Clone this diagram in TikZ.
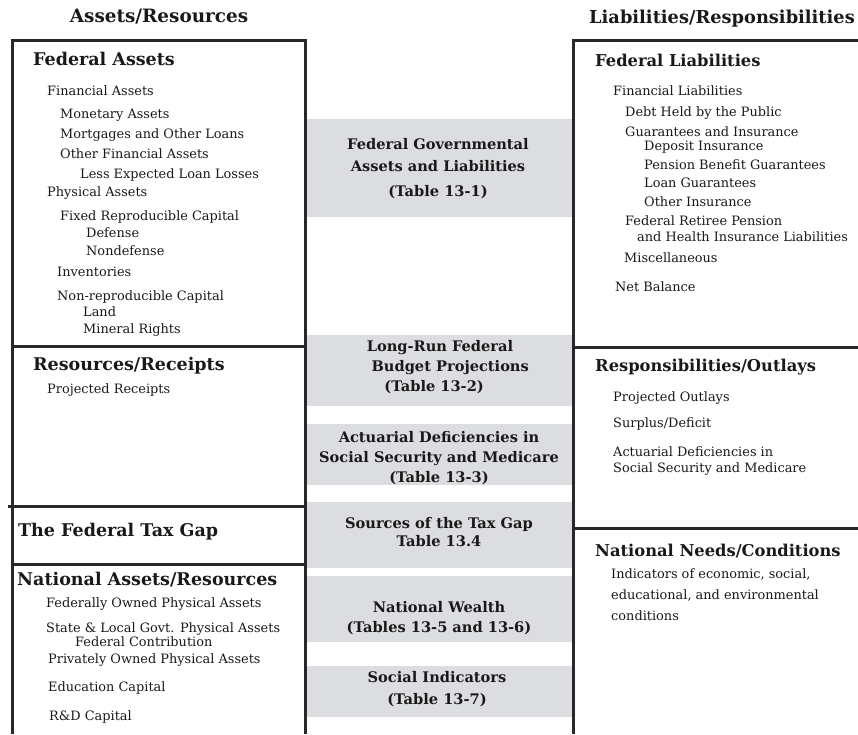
\documentclass[tikz,border=0pt]{standalone}
\usepackage{fontspec}
\setmainfont{DejaVu Serif}
\usetikzlibrary{positioning}
\definecolor{boxgray}{RGB}{220,221,224}
\definecolor{ruleink}{RGB}{40,40,40}
\definecolor{textink}{RGB}{25,25,25}

\begin{document}
\begin{tikzpicture}
	\begin{scope}[x=1pt, y=-1pt]
		\tikzstyle{every node}=[inner sep=0pt, anchor=west, text=textink, text height=1.2ex, text depth=0pt]
		\tikzstyle{top}=[font=\bfseries\fontsize{18.4}{21}\selectfont]
		\tikzstyle{hd}=[font=\bfseries\fontsize{17.5}{20}\selectfont]
		\tikzstyle{hdr}=[font=\bfseries\fontsize{16.3}{19}\selectfont]
		\tikzstyle{itm}=[font=\fontsize{12.9}{15}\selectfont]
		\tikzstyle{tab}=[anchor=center, align=center, text height=, text depth=, font=\bfseries\fontsize{14.6}{20}\selectfont]
		\tikzstyle{rule}=[draw=ruleink, line width=3pt]

		\useasboundingbox (0,0) rectangle (858,734);

		% shaded bands between the two columns
		\fill [boxgray] (305,119) rectangle (573,217);
		\fill [boxgray] (305,335) rectangle (573,406);
		\fill [boxgray] (305,424) rectangle (573,485);
		\fill [boxgray] (305,502) rectangle (573,568);
		\fill [boxgray] (305,576) rectangle (573,642);
		\fill [boxgray] (305,666) rectangle (573,717);

		% column frames
		\draw [rule] (12,734) -- (12,40) -- (305,40) -- (305,734);
		\draw [rule] (573,734) -- (573,40) -- (862,40);
		\draw [rule] (12,346) -- (305,346);
		\draw [rule] (8,506) -- (305,506);
		\draw [rule] (12,564) -- (305,564);
		\draw [rule] (573,347) -- (862,347);
		\draw [rule] (573,528) -- (862,528);

		\node [top, anchor=center] (ares) at (159,19) {Assets/Resources};
		\node [top, font=\bfseries\fontsize{17.8}{21}\selectfont] (lres) at (589,20) {Liabilities/Responsibilities};

		% left column
		\node [hd]  (fa)   at (33,62)  {Federal Assets};
		\node [itm] (fina) at (47,92)  {Financial Assets};
		\node [itm] (mon)  at (60,115) {Monetary Assets};
		\node [itm] (mort) at (60,135) {Mortgages and Other Loans};
		\node [itm] (ofa)  at (60,155) {Other Financial Assets};
		\node [itm] (lel)  at (80,175) {Less Expected Loan Losses};
		\node [itm] (phya) at (47,193) {Physical Assets};
		\node [itm] (frc)  at (60,217) {Fixed Reproducible Capital};
		\node [itm] (def)  at (86,234) {Defense};
		\node [itm] (ndef) at (86,252) {Nondefense};
		\node [itm] (inv)  at (57,273) {Inventories};
		\node [itm] (nrc)  at (57,297) {Non-reproducible Capital};
		\node [itm] (land) at (83,313) {Land};
		\node [itm] (min)  at (83,330) {Mineral Rights};

		\node [hd]  (rr)   at (33,367) {Resources/Receipts};
		\node [itm] (prec) at (47,390) {Projected Receipts};

		\node [hd]  (ftg)  at (18,533) {The Federal Tax Gap};

		\node [hd]  (nar)  at (17,582) {National Assets/Resources};
		\node [itm] (fopa) at (46,604) {Federally Owned Physical Assets};
		\node [itm] (slpa) at (46,629) {State \& Local Govt. Physical Assets};
		\node [itm] (fcon) at (75,643) {Federal Contribution};
		\node [itm] (popa) at (48,660) {Privately Owned Physical Assets};
		\node [itm] (educ) at (48,688) {Education Capital};
		\node [itm] (rdc)  at (49,717) {R\&D Capital};

		% middle column
		\node [tab] (t1) at (438,169) {Federal Governmental\\[2pt]Assets and Liabilities\\[5pt](Table 13-1)};
		\node [tab] (t2) at (440,367) {Long-Run Federal\\\hspace*{1.4em}Budget Projections\\(Table 13-2)\hspace*{0.8em}};
		\node [tab] (t3) at (439,458) {Actuarial Deficiencies in\\Social Security and Medicare\\(Table 13-3)};
		\node [tab] (t4) at (439,532) {Sources of the Tax Gap\\[-2pt]Table 13.4};
		\node [tab] (t5) at (439,618) {National Wealth\\(Tables 13-5 and 13-6)};
		\node [tab] (t6) at (437,689) {Social Indicators\\[2pt](Table 13-7)};

		% right column
		\node [hdr] (fl)   at (595,63)  {Federal Liabilities};
		\node [itm] (finl) at (613,92)  {Financial Liabilities};
		\node [itm] (debt) at (625,113) {Debt Held by the Public};
		\node [itm] (gi)   at (625,133) {Guarantees and Insurance};
		\node [itm] (dep)  at (644,147) {Deposit Insurance};
		\node [itm] (pbg)  at (644,166) {Pension Benefit Guarantees};
		\node [itm] (lg)   at (644,184) {Loan Guarantees};
		\node [itm] (oi)   at (644,203) {Other Insurance};
		\node [itm] (frp)  at (625,222) {Federal Retiree Pension};
		\node [itm] (hil)  at (637,238) {and Health Insurance Liabilities};
		\node [itm] (misc) at (624,259) {Miscellaneous};
		\node [itm] (nbal) at (615,288) {Net Balance};

		\node [hdr] (ro)   at (595,368) {Responsibilities/Outlays};
		\node [itm] (pout) at (613,398) {Projected Outlays};
		\node [itm] (sdef) at (613,424) {Surplus/Deficit};
		\node [itm] (adi)  at (613,453) {Actuarial Deficiencies in};
		\node [itm] (ssm)  at (613,469) {Social Security and Medicare};

		\node [hdr] (nnc)  at (595,553) {National Needs/Conditions};
		\node [itm] (ind1) at (611,575) {Indicators of economic, social,};
		\node [itm] (ind2) at (611,596) {educational, and environmental};
		\node [itm] (ind3) at (611,617) {conditions};
	\end{scope}
\end{tikzpicture}
\end{document}
